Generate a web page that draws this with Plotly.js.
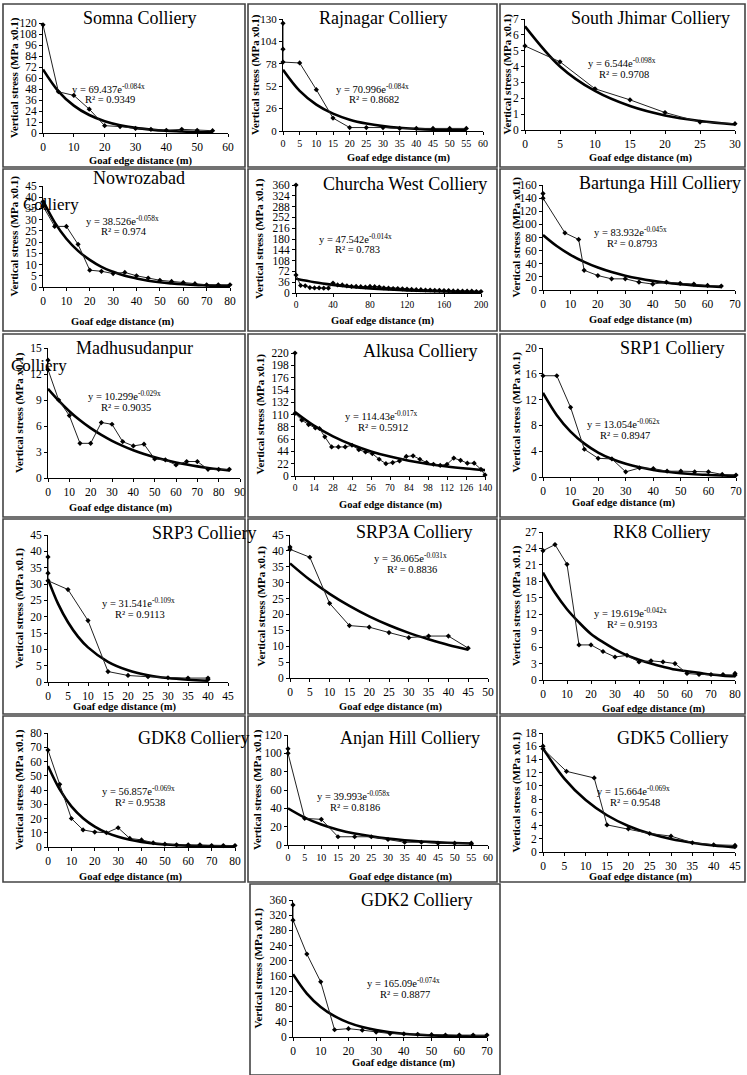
<!DOCTYPE html>
<html><head><meta charset="utf-8">
<script src="https://cdn.plot.ly/plotly-3.0.1.min.js"></script>
<style>html,body{margin:0;padding:0;background:#fff}#c{width:747px;height:1075px}</style>
</head><body><div id="c"></div>
<script>
// ---------------- DATA ----------------
const somnaX = [0,5,10,15,20,25,30,35,40,45,50,55];
const somnaY = [118,45,41,26,8,7,5,4,3,4,3,2.5];
const somnaFitX = [0,5,10,15,20,25,30,35,40,45,50,55];
const somnaFitY = [69.4,45.5,29.9,19.6,12.9,8.5,5.6,3.7,2.4,1.6,1.0,0.7];

const rajX = [0,0,0,5,10,15,20,25,30,35,40,45,50,55];
const rajY = [125,95,80,79,48,15,4,4,4,3,3,3,3,3];
const rajFitX = [0,5,10,15,20,25,30,35,40,45,50,55];
const rajFitY = [71,46.5,30.6,20.1,13.2,8.7,5.7,3.7,2.5,1.6,1.1,0.7];

const sjX = [0,5,10,15,20,25,30];
const sjY = [5.3,4.3,2.6,1.9,1.1,0.5,0.4];
const sjFitX = [0,5,10,15,20,25,30];
const sjFitY = [6.54,4.01,2.46,1.51,0.92,0.57,0.35];

const nowX = [0,0,5,10,15,20,25,30,35,40,45,50,55,60,65,70,75,80];
const nowY = [38,36,27,27,19,7.5,7,6,6.5,5,4,3,2.5,2,1.5,1,1,1];
const nowFitX = [0,5,10,15,20,25,30,35,40,45,50,55,60,65,70,75,80];
const nowFitY = [38.5,28.8,21.5,16.1,12.1,9.0,6.8,5.0,3.8,2.8,2.1,1.6,1.2,0.9,0.7,0.5,0.4];

const churX = [0,0,5,10,15,20,25,30,35,40,45,50,55,60,65,70,75,80,85,90,95,100,105,110,115,120,125,130,135,140,145,150,155,160,165,170,175,180,185,190,195,200];
const churY = [360,60,25,24,18,17,17,16,16,33,27,27,24,22,22,21,20,22,21,20,17,16,15,15,14,13,12,11,11,10,10,9,9,8,8,7,7,6,6,6,5,5];
const churFitX = [0,20,40,60,80,100,120,140,160,180,200];
const churFitY = [47.5,35.8,27.2,20.5,15.5,11.7,8.8,6.7,5.0,3.8,2.9];

const bartX = [0,0,8,13,15,20,25,30,35,40,45,50,55,60,65];
const bartY = [147,140,87,77,30,22,17,17,12,9,12,10,9,7,6];
const bartFitX = [0,5,10,15,20,25,30,35,40,45,50,55,60,65];
const bartFitY = [83.9,67.1,53.6,42.8,34.2,27.3,21.8,17.4,13.9,11.1,8.9,7.1,5.7,4.5];

const madX = [0,0,5,10,15,20,25,30,35,40,45,50,55,60,65,70,75,80,85];
const madY = [13.6,12.5,9,7.2,4,4,6.4,6.2,4.2,3.7,3.9,2.2,2.1,1.5,1.9,1.9,1.0,1.0,1.0];
const madFitX = [0,5,10,15,20,25,30,35,40,45,50,55,60,65,70,75,80,85];
const madFitY = [10.3,8.93,7.71,6.66,5.75,4.97,4.29,3.71,3.2,2.77,2.39,2.07,1.79,1.55,1.34,1.16,1.0,0.87];

const alkX = [0,0,5,10,15,18,22,27,32,37,42,47,52,57,62,67,72,77,82,87,92,97,102,107,112,117,122,127,132,137,140];
const alkY = [220,112,100,92,86,85,70,52,52,52,55,47,43,40,30,22,24,27,35,36,30,24,21,19,21,32,28,23,23,12,2];
const alkFitX = [0,14,28,42,56,70,84,98,112,126,140];
const alkFitY = [114.4,90.1,71.0,55.9,44.0,34.7,27.3,21.5,16.9,13.4,10.5];

const srp1X = [0,5,10,15,20,25,30,35,40,45,50,55,60,65,70];
const srp1Y = [15.7,15.7,10.8,4.3,2.9,2.8,0.8,1.4,1.3,0.9,0.9,0.8,0.8,0.4,0.3];
const srp1FitX = [0,5,10,15,20,25,30,35,40,45,50,55,60,65,70];
const srp1FitY = [13.05,9.59,7.04,5.17,3.79,2.78,2.04,1.5,1.1,0.81,0.59,0.43,0.32,0.23,0.17];

const srp3X = [0,0,0,5,10,15,20,25,30,35,40,40];
const srp3Y = [38.3,33.3,31,28.3,18.8,3.2,2,1.6,1.3,1.2,1.2,0.8];
const srp3FitX = [0,2.5,5,7.5,10,15,20,25,30,35,40];
const srp3FitY = [31.5,24.0,18.3,13.9,10.6,6.16,3.58,2.08,1.2,0.7,0.4];

const srp3aX = [0,0,5,10,15,20,25,30,35,40,45];
const srp3aY = [41.2,40.5,38,23.5,16.5,16,14.3,12.7,13.2,13.2,9.4];
const srp3aFitX = [0,5,10,15,20,25,30,35,40,45];
const srp3aFitY = [36.07,30.9,26.5,22.7,19.4,16.6,14.2,12.2,10.4,8.9];

const rk8X = [0,5,10,15,20,25,30,35,40,45,50,55,60,65,70,75,80,80];
const rk8Y = [23.6,24.7,21.1,6.4,6.4,5.2,4.2,4.5,3.3,3.5,3.3,3.0,1.2,1.0,1.0,1.0,0.9,1.2];
const rk8FitX = [0,5,10,15,20,25,30,35,40,45,50,55,60,65,70,75,80];
const rk8FitY = [19.6,15.9,12.9,10.5,8.4,6.9,5.6,4.5,3.7,3.0,2.4,1.9,1.6,1.3,1.0,0.8,0.7];

const gdk8X = [0,5,10,15,20,25,30,35,40,45,50,55,60,65,70,75,80];
const gdk8Y = [68,44,20,12,10.5,10,13.5,6,5,3,2,1.5,1.5,1.5,1,1,1];
const gdk8FitX = [0,5,10,15,20,25,30,35,40,45,50,55,60,65,70,75,80];
const gdk8FitY = [56.9,40.4,28.5,20.2,14.3,10.1,7.2,5.1,3.6,2.5,1.8,1.3,0.9,0.6,0.45,0.3,0.23];

const anjX = [0,0,5,10,15,20,25,30,35,40,45,50,55,55];
const anjY = [105,100,29,28,9,9,9,6,3,3,2,2,2,1];
const anjFitX = [0,5,10,15,20,25,30,35,40,45,50,55];
const anjFitY = [40,29.9,22.4,16.7,12.5,9.4,7.0,5.2,3.9,2.9,2.2,1.6];

const gdk5X = [0,0,5.5,12,15,20,25,30,35,40,45,45];
const gdk5Y = [16,15.6,12.2,11.2,4.1,3.5,2.8,2.4,1.4,1.1,1.0,0.8];
const gdk5FitX = [0,5,10,15,20,25,30,35,40,45];
const gdk5FitY = [15.66,11.1,7.85,5.56,3.94,2.79,1.97,1.40,0.99,0.70];

const gdk2X = [0,0,5,10,15,20,25,30,35,40,45,50,55,60,65,70];
const gdk2Y = [347,307,218,145,19,22,18,13,9,8,7,6,5,5,5,5];
const gdk2FitX = [0,5,10,15,20,25,30,35,40,45,50,55,60,65,70];
const gdk2FitY = [165.1,114.2,78.9,54.6,37.7,26.1,18.0,12.5,8.6,6.0,4.1,2.8,2.0,1.4,0.9];

const panelTitles = ['Somna Colliery','Rajnagar Colliery','South Jhimar Colliery','Nowrozabad','Churcha West Colliery','Bartunga Hill Colliery','Madhusudanpur','Alkusa Colliery','SRP1 Colliery','SRP3 Colliery','SRP3A Colliery','RK8 Colliery','GDK8 Colliery','Anjan Hill Colliery','GDK5 Colliery','GDK2 Colliery'];
const equations = ['y = 69.437e<sup>-0.084x</sup>','y = 70.996e<sup>-0.084x</sup>','y = 6.544e<sup>-0.098x</sup>','y = 38.526e<sup>-0.058x</sup>','y = 47.542e<sup>-0.014x</sup>','y = 83.932e<sup>-0.045x</sup>','y = 10.299e<sup>-0.029x</sup>','y = 114.43e<sup>-0.017x</sup>','y = 13.054e<sup>-0.062x</sup>','y = 31.541e<sup>-0.109x</sup>','y = 36.065e<sup>-0.031x</sup>','y = 19.619e<sup>-0.042x</sup>','y = 56.857e<sup>-0.069x</sup>','y = 39.993e<sup>-0.058x</sup>','y = 15.664e<sup>-0.069x</sup>','y = 165.09e<sup>-0.074x</sup>'];
const rSquared = ['R² = 0.9349','R² = 0.8682','R² = 0.9708','R² = 0.974','R² = 0.783','R² = 0.8793','R² = 0.9035','R² = 0.5912','R² = 0.8947','R² = 0.9113','R² = 0.8836','R² = 0.9193','R² = 0.9538','R² = 0.8186','R² = 0.9548','R² = 0.8877'];
const xTitle = 'Goaf edge distance (m)';
const yTitle = 'Vertical stress (MPa x0.1)';

const series = [
 [somnaX,somnaY,somnaFitX,somnaFitY],[rajX,rajY,rajFitX,rajFitY],[sjX,sjY,sjFitX,sjFitY],
 [nowX,nowY,nowFitX,nowFitY],[churX,churY,churFitX,churFitY],[bartX,bartY,bartFitX,bartFitY],
 [madX,madY,madFitX,madFitY],[alkX,alkY,alkFitX,alkFitY],[srp1X,srp1Y,srp1FitX,srp1FitY],
 [srp3X,srp3Y,srp3FitX,srp3FitY],[srp3aX,srp3aY,srp3aFitX,srp3aFitY],[rk8X,rk8Y,rk8FitX,rk8FitY],
 [gdk8X,gdk8Y,gdk8FitX,gdk8FitY],[anjX,anjY,anjFitX,anjFitY],[gdk5X,gdk5Y,gdk5FitX,gdk5FitY],
 [gdk2X,gdk2Y,gdk2FitX,gdk2FitY]
];

// ---------------- LAYOUT (pixels) ----------------
const W = 747, H = 1075;
const PX = v => v / W, PY = v => 1 - v / H;
const geo = [
 {ax:[43,228,23,133], xr:60, xd:10, yr:120, yd:12, t:[140,18], e:[108,88], ya:14, xt:[140,161], box:[3,245,4,167]},
 {ax:[283,483,19,131], xr:60, xd:5, yr:130, yd:26, t:[383,18], e:[372,88], ya:255, xt:[398,158], box:[248,497,4,167], xf:10, yf:11},
 {ax:[525,735,19,130], xr:30, xd:5, yr:7, yd:1, t:[650,18], e:[622,62], ya:507, xt:[640,158], box:[500,745,4,167]},
 {ax:[43,230,186,287], xr:80, xd:10, yr:45, yd:5, t:[139,178], e:[122,220], ya:14, xt:[122,322], box:[3,245,169,331]},
 {ax:[296,481,185,293], xr:200, xd:40, yr:360, yd:36, t:[405,184], e:[355,238], ya:259, xt:[382,321], box:[248,497,169,331], xf:9.5},
 {ax:[543,735,185,290], xr:70, xd:10, yr:160, yd:20, t:[660,183], e:[630,231], ya:516, xt:[640,320], box:[500,745,169,331]},
 {ax:[48,240,348,478], xr:90, xd:10, yr:15, yd:3, t:[134,348], e:[124,395], ya:19, xt:[120,508], box:[3,245,334,517]},
 {ax:[295,485,353,476], xr:140, xd:14, yr:220, yd:22, t:[420,351], e:[381,415], ya:260, xt:[390,505], box:[248,497,334,517], xf:9.5},
 {ax:[543,736,348,477], xr:70, xd:10, yr:20, yd:4, t:[672,348], e:[623,423], ya:516, xt:[623,503], box:[500,745,334,517]},
 {ax:[48,228,535,682], xr:45, xd:5, yr:45, yd:5, t:[204,533], e:[138,602], ya:19, xt:[124,707], box:[3,245,519,714]},
 {ax:[290,488,535,678], xr:50, xd:5, yr:45, yd:5, t:[414,532], e:[410,557], ya:261, xt:[390,707], box:[248,497,519,714]},
 {ax:[543,735,532,680], xr:80, xd:10, yr:27, yd:3, t:[662,532], e:[630,612], ya:516, xt:[653,709], box:[500,745,519,714]},
 {ax:[48,235,733,847], xr:80, xd:10, yr:80, yd:10, t:[194,738], e:[138,790], ya:19, xt:[130,877], box:[3,245,716,882]},
 {ax:[288,488,735,845], xr:60, xd:5, yr:120, yd:20, t:[410,738], e:[353,795], ya:257, xt:[400,877], box:[248,497,716,882], xf:10},
 {ax:[543,735,733,852], xr:45, xd:5, yr:18, yd:2, t:[673,738], e:[633,790], ya:516, xt:[640,877], box:[500,745,716,882]},
 {ax:[293,487,900,1037], xr:70, xd:10, yr:360, yd:40, t:[417,900], e:[403,982], ya:258, xt:[403,1063], box:[250,500,884,1075]}
];

const serif = 'Liberation Serif, Times New Roman, serif';
const data = [], annotations = [], shapes = [];
const layout = {width:W, height:H, margin:{l:0,r:0,t:0,b:0}, paper_bgcolor:'#fff', plot_bgcolor:'rgba(0,0,0,0)', showlegend:false, font:{family:serif, color:'#000'}};

geo.forEach((g,i) => {
  const n = i+1, xa = 'x'+(n===1?'':n), ya = 'y'+(n===1?'':n);
  const [L,R,T,B] = g.ax;
  const [sx,sy,fx,fy] = series[i];
  layout['xaxis'+(n===1?'':n)] = {domain:[PX(L),PX(R)], anchor:ya, range:[0,g.xr], dtick:g.xd, tick0:0,
    showgrid:false, zeroline:false, showline:true, linecolor:'#000', linewidth:1, ticks:'outside', ticklen:3, tickcolor:'#000',
    tickfont:{family:serif,size:g.xf||11.5,color:'#000'}, fixedrange:true};
  layout['yaxis'+(n===1?'':n)] = {domain:[PY(B),PY(T)], anchor:xa, range:[0,g.yr], dtick:g.yd, tick0:0,
    showgrid:false, zeroline:false, showline:true, linecolor:'#000', linewidth:1, ticks:'outside', ticklen:3, tickcolor:'#000',
    tickfont:{family:serif,size:g.yf||11.5,color:'#000'}, fixedrange:true};
  data.push({x:fx, y:fy, xaxis:xa, yaxis:ya, mode:'lines', line:{color:'#000', width:2.6, shape:'spline'}, cliponaxis:false, hoverinfo:'skip'});
  data.push({x:sx, y:sy, xaxis:xa, yaxis:ya, mode:'lines+markers', line:{color:'#222', width:1}, marker:{symbol:'diamond', size:4, color:'#000'}, cliponaxis:false});
  shapes.push({type:'rect', xref:'paper', yref:'paper', x0:PX(g.box[0]), x1:PX(g.box[1]), y0:PY(g.box[3]), y1:PY(g.box[2]), line:{color:'#444', width:1.6}});
  annotations.push({xref:'paper', yref:'paper', x:PX(g.t[0]), y:PY(g.t[1]), text:panelTitles[i], showarrow:false, xanchor:'center', yanchor:'middle', font:{family:serif, size:18, color:'#000'}});
  annotations.push({xref:'paper', yref:'paper', x:PX(g.e[0]), y:PY(g.e[1]), text:equations[i], showarrow:false, xanchor:'center', yanchor:'middle', font:{family:serif, size:10.5, color:'#000'}});
  annotations.push({xref:'paper', yref:'paper', x:PX(g.e[0]+2), y:PY(g.e[1]+12), text:rSquared[i], showarrow:false, xanchor:'center', yanchor:'middle', font:{family:serif, size:10.5, color:'#000'}});
  annotations.push({xref:'paper', yref:'paper', x:PX(g.xt[0]), y:PY(g.xt[1]), text:'<b>'+xTitle+'</b>', showarrow:false, xanchor:'center', yanchor:'middle', font:{family:serif, size:10.5, color:'#000'}});
  annotations.push({xref:'paper', yref:'paper', x:PX(g.ya), y:PY((T+B)/2), text:'<b>'+yTitle+'</b>', textangle:-90, showarrow:false, xanchor:'center', yanchor:'middle', font:{family:serif, size:11, color:'#000'}});
});
// wrapped "Colliery" fragments overlapping the y tick labels, as in the source
annotations.push({xref:'paper', yref:'paper', x:PX(51), y:PY(205), text:'Colliery', showarrow:false, xanchor:'center', yanchor:'middle', font:{family:serif, size:17, color:'#000'}});
annotations.push({xref:'paper', yref:'paper', x:PX(39), y:PY(365), text:'Colliery', showarrow:false, xanchor:'center', yanchor:'middle', font:{family:serif, size:17, color:'#000'}});
layout.annotations = annotations;
layout.shapes = shapes;
Plotly.newPlot('c', data, layout, {staticPlot:true, displayModeBar:false});
</script></body></html>
